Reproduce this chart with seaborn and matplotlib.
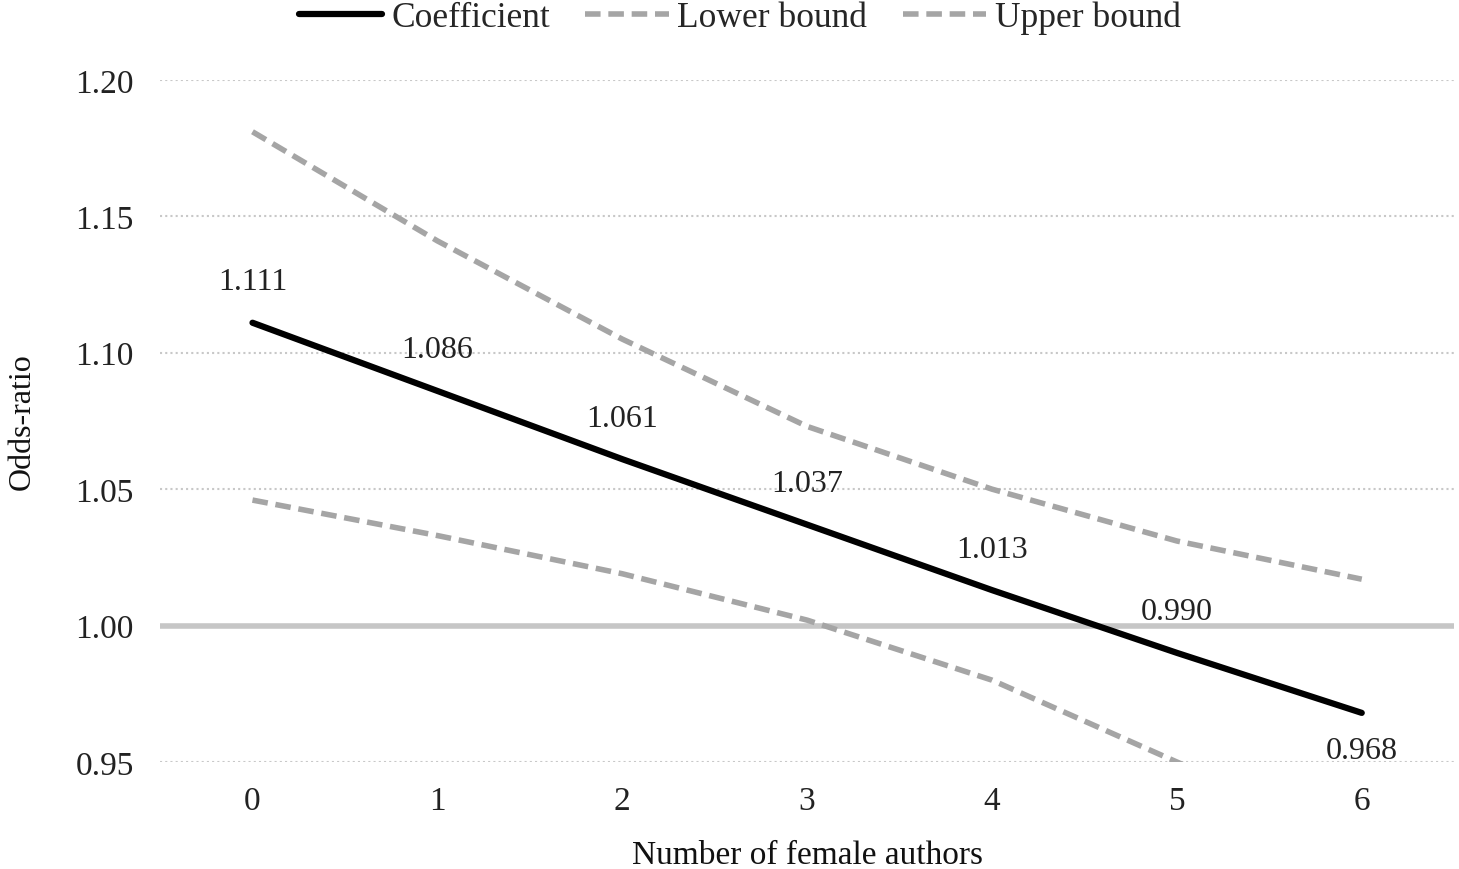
import numpy as np
import pandas as pd
import seaborn as sns
from matplotlib import pyplot as plt

# degerler
authors = [0, 1, 2, 3, 4, 5, 6]
coef = [1.111, 1.086, 1.061, 1.037, 1.013, 0.990, 0.968]
lower = [1.046, 1.033, 1.019, 1.002, 0.980, 0.950, 0.921]
upper = [1.181, 1.141, 1.105, 1.073, 1.050, 1.031, 1.017]
coef_labels = ["1.111", "1.086", "1.061", "1.037", "1.013", "0.990", "0.968"]

sns.set_style("white")
plt.rcParams['font.family'] = ['Liberation Serif', 'DejaVu Serif']

fig = plt.figure(figsize=(14.59, 8.70), dpi=100)
ax = fig.add_axes([0.1097, 0.123, 0.887, 0.784])

# yatay grid cizgileri
for yv in [0.95, 1.05, 1.10, 1.15, 1.20]:
    ax.axhline(yv, color="#c8c8c8", lw=1.5, ls=(0, (1, 1.5)), zorder=0)
ax.axhline(1.00, color="#c6c6c6", lw=4, zorder=1)

dash = (0, (2.8, 1.4))
sns.lineplot(x=authors, y=coef, ax=ax, color="black", lw=4.5, label="Coefficient", zorder=4)
sns.lineplot(x=authors, y=lower, ax=ax, color="#a5a5a5", lw=4, ls=dash, label="Lower bound", zorder=3)
sns.lineplot(x=authors, y=upper, ax=ax, color="#a5a5a5", lw=4, ls=dash, label="Upper bound", zorder=3)

for i, (xv, yv) in enumerate(zip(authors, coef)):
    if i == len(authors) - 1:
        ax.annotate(coef_labels[i], (xv, yv), xytext=(0, -38), textcoords="offset pixels",
                    ha="center", va="center", fontsize=23, color="#222222")
    else:
        ax.annotate(coef_labels[i], (xv, yv), xytext=(0, 41), textcoords="offset pixels",
                    ha="center", va="center", fontsize=23, color="#222222")

ax.set_xlim(-0.5, 6.5)
ax.set_ylim(0.95, 1.20)
ax.set_xticks(authors)
ax.set_yticks([0.95, 1.00, 1.05, 1.10, 1.15, 1.20])
ax.set_yticklabels(["0.95", "1.00", "1.05", "1.10", "1.15", "1.20"])
ax.tick_params(axis="x", labelsize=24, pad=17, length=0, colors="#222222")
ax.tick_params(axis="y", labelsize=24, pad=19, length=0, colors="#222222")
ax.set_xlabel("Number of female authors", fontsize=24, labelpad=17, color="#111111")
ax.set_ylabel("Odds-ratio", fontsize=23, labelpad=28, color="#111111")
sns.despine(ax=ax, left=True, bottom=True)

ax.legend(loc="center", bbox_to_anchor=(0.448, 1.092), ncol=3, frameon=False,
          fontsize=25.5, handlelength=2.35, handletextpad=0.25, columnspacing=1.0)

fig.savefig("out.png", dpi=100)
